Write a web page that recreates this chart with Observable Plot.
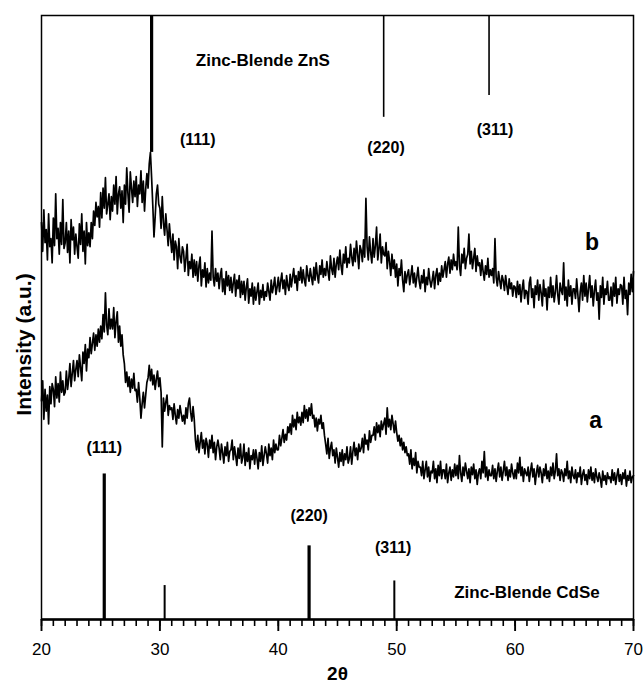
<!DOCTYPE html>
<html>
<head>
<meta charset="utf-8">
<script src="https://cdn.jsdelivr.net/npm/d3@7"></script>
<script src="https://cdn.jsdelivr.net/npm/@observablehq/plot@0.6"></script>
<style>
  html, body { margin: 0; padding: 0; background: #fff; }
  #chart svg { display: block; }
</style>
</head>
<body>
<div id="chart"></div>
<script>
// Diffraction angle grid (2θ, degrees)
const angleStart = 20;
const angleStep = 0.1;

// Pattern b (upper trace), intensity a.u., one value per 0.1°
const intensityB = [
  640, 590, 662, 605, 628, 575, 655, 598, 612, 570,
  648, 600, 690, 612, 630, 585, 640, 602, 680, 595,
  605, 640, 588, 625, 570, 645, 610, 632, 585, 620,
  598, 578, 638, 602, 655, 590, 625, 568, 640, 600,
  622, 598, 640, 612, 660, 635, 675, 650, 668, 632,
  692, 648, 700, 665, 718, 655, 672, 690, 645, 685,
  660, 705, 672, 720, 655, 690, 702, 665, 695, 640,
  705, 672, 735, 690, 658, 728, 700, 675, 712, 685,
  720, 668, 705, 690, 730, 675, 712, 660, 698, 725,
  700, 742, 762, 718, 670, 615, 650, 690, 705, 672,
  665, 630, 685, 640, 618, 655, 628, 600, 638, 612,
  588, 620, 575, 608, 598, 560, 612, 580, 570, 598,
  590, 555, 578, 602, 548, 572, 560, 585, 545, 575,
  548, 572, 538, 565, 580, 530, 558, 545, 570, 528,
  560, 535, 552, 540, 625, 545, 530, 560, 538, 552,
  525, 548, 560, 520, 542, 515, 555, 530, 548, 522,
  545, 518, 535, 550, 512, 540, 525, 548, 510, 538,
  515, 538, 505, 528, 542, 500, 525, 512, 535, 498,
  528, 505, 520, 535, 498, 522, 510, 532, 505, 520,
  512, 535, 520, 505, 540, 518, 530, 545, 515, 528,
  545, 520, 538, 552, 525, 540, 515, 548, 530, 522,
  550, 528, 545, 560, 535, 548, 522, 555, 540, 562,
  535, 558, 540, 530, 565, 548, 538, 560, 545, 532,
  562, 540, 570, 548, 535, 565, 550, 575, 545, 560,
  548, 572, 555, 540, 582, 560, 550, 578, 545, 568,
  580, 558, 592, 565, 550, 585, 570, 598, 562, 578,
  570, 602, 580, 565, 595, 572, 608, 585, 560, 600,
  592, 572, 610, 580, 682, 598, 575, 615, 588, 570,
  612, 580, 600, 632, 575, 595, 620, 570, 598, 585,
  582, 605, 560, 590, 572, 548, 585, 560, 575, 545,
  568, 530, 560, 548, 575, 540, 520, 555, 535, 550,
  558, 532, 548, 565, 535, 552, 528, 545, 562, 538,
  525, 548, 535, 558, 520, 545, 532, 560, 540, 528,
  540, 555, 525, 548, 560, 532, 552, 538, 565, 545,
  558, 572, 545, 568, 580, 552, 575, 558, 585, 565,
  572, 558, 632, 565, 548, 585, 570, 595, 560, 578,
  585, 620, 568, 590, 560, 578, 595, 555, 582, 565,
  570, 548, 575, 555, 540, 565, 550, 578, 545, 558,
  548, 560, 535, 612, 545, 530, 555, 540, 525, 548,
  540, 522, 548, 530, 515, 542, 525, 535, 512, 530,
  528, 510, 538, 515, 532, 502, 525, 540, 508, 522,
  520, 498, 535, 545, 510, 525, 492, 530, 515, 540,
  505, 532, 518, 495, 540, 512, 525, 488, 528, 510,
  545, 510, 530, 502, 520, 548, 515, 498, 535, 522,
  515, 570, 505, 528, 495, 540, 512, 530, 498, 525,
  525, 508, 542, 515, 485, 520, 535, 505, 548, 512,
  535, 502, 525, 548, 510, 530, 495, 522, 540, 505,
  518, 472, 530, 510, 545, 498, 525, 515, 538, 505,
  505, 528, 495, 535, 512, 545, 500, 525, 515, 532,
  530, 498, 545, 508, 522, 480, 535, 515, 550, 520,
  555
];

// Pattern a (lower trace)
const intensityA = [
  330, 365, 298, 350, 312, 340, 290, 355, 325, 360,
  350, 320, 372, 335, 360, 328, 380, 345, 365, 340,
  345, 382, 350, 368, 395, 355, 378, 400, 365, 385,
  400, 372, 410, 388, 365, 415, 395, 428, 382, 420,
  405, 440, 412, 430, 448, 418, 445, 425, 455, 432,
  460, 438, 480, 450, 518, 462, 445, 490, 455, 472,
  455, 492, 440, 468, 485, 432, 460, 425, 445, 410,
  395, 362, 380, 355, 372, 345, 368, 352, 378, 348,
  350, 328, 362, 335, 300, 325, 345, 318, 340, 362,
  370, 392, 365, 385, 358, 375, 350, 368, 382, 355,
  370, 345, 250, 335, 312, 328, 340, 305, 322, 315,
  318, 298, 325, 305, 290, 315, 300, 322, 308, 295,
  305, 290, 318, 300, 325, 335, 310, 295, 320, 298,
  262, 245, 270, 240, 258, 275, 248, 262, 238, 265,
  255, 232, 262, 248, 270, 240, 258, 228, 250, 262,
  248, 228, 255, 240, 222, 250, 235, 258, 225, 242,
  245, 262, 228, 250, 235, 218, 248, 230, 255, 222,
  232, 255, 218, 240, 225, 248, 212, 235, 228, 245,
  220, 245, 230, 212, 240, 225, 252, 218, 235, 250,
  238, 222, 255, 235, 248, 228, 262, 240, 255, 245,
  245, 270, 252, 265, 280, 258, 272, 262, 285, 275,
  290, 272, 305, 285, 298, 280, 310, 292, 302, 288,
  310, 292, 322, 300, 315, 295, 318, 305, 325, 300,
  305, 285, 300, 278, 298, 290, 305, 282, 292, 270,
  255, 238, 265, 230, 248, 258, 235, 245, 222, 248,
  232, 215, 240, 225, 245, 218, 238, 228, 250, 222,
  230, 250, 220, 242, 258, 235, 248, 228, 255, 242,
  248, 265, 240, 272, 255, 262, 245, 278, 258, 270,
  270, 285, 262, 292, 275, 288, 268, 295, 280, 290,
  300, 272, 318, 285, 298, 280, 305, 290, 275, 295,
  275, 260, 270, 252, 265, 245, 258, 240, 250, 235,
  238, 220, 245, 212, 230, 218, 240, 205, 225, 215,
  215, 200, 225, 195, 210, 225, 198, 215, 190, 208,
  205, 225, 195, 212, 188, 218, 200, 225, 195, 210,
  210, 195, 220, 188, 205, 215, 192, 210, 198, 220,
  200, 218, 195, 235, 205, 190, 215, 200, 222, 208,
  195, 212, 188, 215, 202, 220, 195, 210, 185, 205,
  212, 195, 225, 205, 242, 198, 215, 192, 210, 200,
  200, 218, 195, 212, 190, 208, 222, 198, 215, 192,
  208, 225, 200, 215, 192, 210, 198, 220, 205, 195,
  210, 195, 222, 205, 232, 200, 215, 190, 212, 205,
  200, 215, 190, 208, 222, 198, 212, 185, 205, 218,
  198, 215, 205, 188, 212, 200, 220, 195, 208, 190,
  215, 200, 222, 195, 208, 238, 200, 212, 192, 210,
  205, 190, 212, 200, 225, 195, 208, 188, 215, 200,
  195, 210, 188, 205, 198, 215, 185, 202, 210, 192,
  202, 185, 210, 195, 215, 192, 205, 188, 212, 198,
  190, 205, 195, 180, 208, 192, 200, 185, 205, 195,
  198, 188, 210, 192, 205, 185, 200, 212, 190, 202,
  185, 205, 195, 210, 182, 200, 192, 208, 188, 198,
  200
];

// Intensity range shown on the (hidden) vertical axis
const yBottom = -50;
const yTop = 1000;

// Reference stick patterns
const znsAngles = [29.3, 48.9, 57.8];
const znsDepth = [762, 823, 861];           // lower end of sticks hanging from the top
const znsHkl = ["(111)", "(220)", "(311)"];
const znsLabelX = [33.2, 49.1, 58.3];
const znsLabelY = [783, 770, 802];

const cdseAngles = [25.3, 30.4, 42.6, 49.8];
const cdseHeight = [203, 9, 78, 17];
const cdseHkl = ["(111)", "", "(220)", "(311)"];
const cdseLabelX = [25.3, 42.6, 49.7];
const cdseLabelY = [249, 130, 75];
const cdseLabels = ["(111)", "(220)", "(311)"];

const xTicks = [20, 30, 40, 50, 60, 70];
const xMinorTicks = d3.range(20, 71, 1);

const phaseNames = ["Zinc-Blende ZnS", "Zinc-Blende CdSe"];
const phaseX = [38.7, 61.0];
const phaseY = [922, -3];
const traceNames = ["b", "a"];
const traceX = [66.5, 66.8];
const traceY = [605, 296];

// Build tables
const lineB = intensityB.map((v, i) => ({x: angleStart + i * angleStep, y: v}));
const lineA = intensityA.map((v, i) => ({x: angleStart + i * angleStep, y: v}));
const zns = znsAngles.map((x, i) => ({x, y: znsDepth[i], hkl: znsHkl[i]}));
const cdse = cdseAngles.map((x, i) => ({x, y: cdseHeight[i], hkl: cdseHkl[i]}));
const znsLab = znsHkl.map((t, i) => ({t, x: znsLabelX[i], y: znsLabelY[i]}));
const cdseLab = cdseLabels.map((t, i) => ({t, x: cdseLabelX[i], y: cdseLabelY[i]}));
const phases = phaseNames.map((t, i) => ({t, x: phaseX[i], y: phaseY[i]}));
const traces = traceNames.map((t, i) => ({t, x: traceX[i], y: traceY[i]}));

const font = "'Liberation Sans', Arial, sans-serif";
const thickZns = new Set(["(111)"]);
const thickCdse = new Set(["(111)", "(220)"]);

const chart = Plot.plot({
  width: 643,
  height: 685,
  marginLeft: 41,
  marginRight: 10,
  marginTop: 15,
  marginBottom: 66,
  style: {fontFamily: font, fontSize: "14px", color: "#000", background: "#fff"},
  x: {domain: [20, 70]},
  y: {domain: [yBottom, yTop], axis: null},
  marks: [
    Plot.frame({stroke: "#000", strokeWidth: 1.5}),
    Plot.ruleY([yBottom], {stroke: "#000", strokeWidth: 2.5}),
    Plot.axisX({ticks: xMinorTicks, tickSize: 7, strokeWidth: 1.6, text: null, label: null}),
    Plot.axisX({ticks: xTicks, tickSize: 12, strokeWidth: 1.9, tickPadding: 11, fontSize: 17, label: null, tickFormat: d => d}),
    Plot.line(lineB, {x: "x", y: "y", stroke: "#000", strokeWidth: 1.7}),
    Plot.line(lineA, {x: "x", y: "y", stroke: "#000", strokeWidth: 1.7}),
    Plot.ruleX(zns, {x: "x", y1: yTop, y2: "y", stroke: "#000", strokeWidth: d => thickZns.has(d.hkl) ? 3.2 : 1.6}),
    Plot.ruleX(cdse, {x: "x", y1: yBottom, y2: "y", stroke: "#000", strokeWidth: d => thickCdse.has(d.hkl) ? 3.2 : 2}),
    Plot.text(znsLab, {x: "x", y: "y", text: "t", fontWeight: "bold", fontSize: 16, fill: "#000"}),
    Plot.text(cdseLab, {x: "x", y: "y", text: "t", fontWeight: "bold", fontSize: 16, fill: "#000"}),
    Plot.text(phases, {x: "x", y: "y", text: "t", fontWeight: "bold", fontSize: 17, fill: "#000"}),
    Plot.text(traces, {x: "x", y: "y", text: "t", fontWeight: "bold", fontSize: 23, fill: "#000"}),
    Plot.text(["Intensity (a.u.)"], {frameAnchor: "left", textAnchor: "middle", lineAnchor: "middle", dx: -17, dy: 27, rotate: -90, text: d => d, fontWeight: "bold", fontSize: 21, letterSpacing: "2px", fill: "#000"}),
    Plot.text(["2θ"], {frameAnchor: "bottom", dy: 54, lineAnchor: "middle", text: d => d, fontWeight: "bold", fontSize: 19, fill: "#000"})
  ]
});
document.getElementById("chart").appendChild(chart);
</script>
</body>
</html>
